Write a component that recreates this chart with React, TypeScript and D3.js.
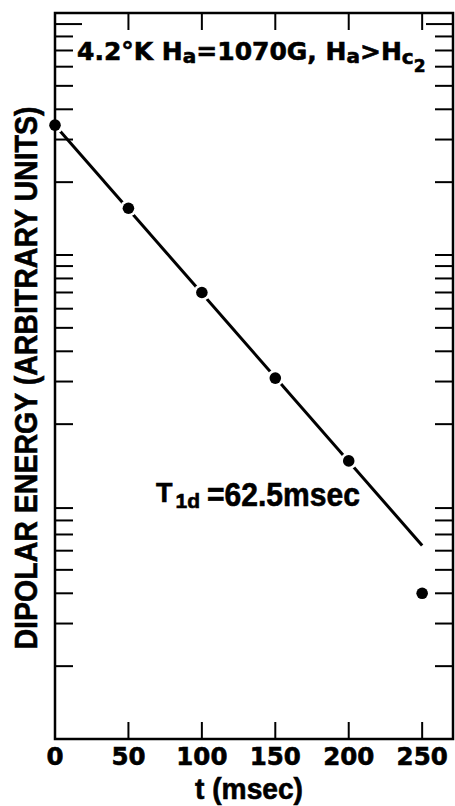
import React from 'react';
import * as d3 from 'd3';

const times = [0, 50, 100, 150, 200, 250];
const energies = [344, 156, 70, 31, 14.1, 4.0];
const fitTimes = [0, 250];
const fitEnergies = [344, 6.3];
const xTickValues = [0, 50, 100, 150, 200, 250];
const xTickLabels = ['0', '50', '100', '150', '200', '250'];
const yTickValues = [2, 3, 4, 5, 6, 7, 8, 9, 20, 30, 40, 50, 60, 70, 80, 90, 100, 200, 300, 400, 500, 600, 700, 800, 900];
const yLongTicks = [900];

export default function App() {
  const W = 455, H = 806;
  const left = 55, right = 453, top = 13, bottom = 739;
  const x = d3.scaleLinear().domain([0, 271]).range([left, right]);
  const y = d3.scaleLog().domain([1, 1000]).range([bottom, top]);
  const fit: [number, number][] = fitTimes.map((t, i) => [t, fitEnergies[i]]);
  const pts: [number, number][] = times.map((t, i) => [t, energies[i]]);
  const line = d3.line<[number, number]>().x(d => x(d[0])).y(d => y(d[1]));
  const dv = "'DejaVu Sans', sans-serif";
  const lib = "'Liberation Sans', Arial, sans-serif";
  const thick = { stroke: '#000', strokeWidth: 0.6 };
  return (
    <svg width={W} height={H} style={{ position: 'absolute', left: 0, top: 0, background: '#fff' }}>
      <rect x={0} y={0} width={W} height={H} fill="#fff" />
      {/* fit line */}
      <path d={line(fit) || ''} fill="none" stroke="#000" strokeWidth={3} />
      {/* halos */}
      {pts.map((p, i) => (
        <circle key={'h' + i} cx={x(p[0])} cy={y(p[1])} r={8.5} fill="#fff" />
      ))}
      {/* frame */}
      <rect x={left} y={top} width={right - left} height={bottom - top} fill="none" stroke="#000" strokeWidth={2.5} />
      {/* y ticks */}
      {yTickValues.map(v => {
        const len = yLongTicks.includes(v) ? 27 : 18;
        return (
          <g key={'y' + v}>
            <line x1={left} x2={left + len} y1={y(v)} y2={y(v)} stroke="#000" strokeWidth={2} />
            <line x1={right - len} x2={right} y1={y(v)} y2={y(v)} stroke="#000" strokeWidth={2} />
          </g>
        );
      })}
      {/* x ticks */}
      {xTickValues.filter(v => v > 0).map(v => (
        <g key={'x' + v}>
          <line x1={x(v)} x2={x(v)} y1={bottom} y2={bottom - 17} stroke="#000" strokeWidth={2} />
          <line x1={x(v)} x2={x(v)} y1={top} y2={top + 17} stroke="#000" strokeWidth={2} />
        </g>
      ))}
      {/* dots */}
      {pts.map((p, i) => (
        <circle key={'d' + i} cx={x(p[0])} cy={y(p[1])} r={5.8} fill="#000" />
      ))}
      {/* x tick labels */}
      {xTickValues.map((v, i) => (
        <text key={'xl' + v} x={x(v)} y={765} textAnchor="middle" fontFamily={dv} fontWeight="bold" fontSize={24.5} {...thick}>
          {xTickLabels[i]}
        </text>
      ))}
      {/* x title */}
      <text x={249} y={799} textAnchor="middle" fontFamily={lib} fontWeight="bold" fontSize={29} textLength={108} lengthAdjust="spacingAndGlyphs" {...thick}>
        t (msec)
      </text>
      {/* y title */}
      <text transform="translate(37,378) rotate(-90)" textAnchor="middle" fontFamily={lib} fontWeight="bold" fontSize={32} textLength={543} lengthAdjust="spacingAndGlyphs" {...thick}>
        DIPOLAR ENERGY (ARBITRARY UNITS)
      </text>
      {/* title */}
      <text x={77} y={60} fontFamily={dv} fontWeight="bold" fontSize={25} {...thick}>
        4.2°K H<tspan fontSize={20} dy={3}>a</tspan>
        <tspan fontSize={25} dy={-3}>=1070G, H</tspan>
        <tspan fontSize={20} dy={3}>a</tspan>
        <tspan fontSize={25} dy={-3}>&gt;H</tspan>
        <tspan fontSize={20} dy={4}>c</tspan>
        <tspan fontSize={17} dy={8}>2</tspan>
      </text>
      {/* T1d label */}
      <text x={156} y={502} fontFamily={lib} fontWeight="bold" fontSize={27} {...thick}>
        T<tspan fontSize={21} dy={6} dx={3}>1d</tspan>
      </text>
      <text x={207} y={506} fontFamily={lib} fontWeight="bold" fontSize={33} textLength={153} lengthAdjust="spacingAndGlyphs" {...thick}>
        =62.5msec
      </text>
    </svg>
  );
}
